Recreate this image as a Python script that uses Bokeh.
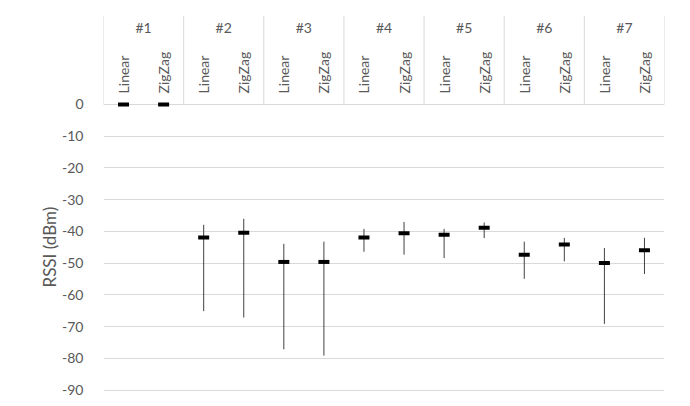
import math
from bokeh.plotting import figure
from bokeh.models import ColumnDataSource, FactorRange, Range1d, FixedTicker, Title
from bokeh.core.properties import value
from bokeh.embed import file_html
from bokeh.resources import INLINE

groups = ["#1", "#2", "#3", "#4", "#5", "#6", "#7"]
methods = ["Linear", "ZigZag"]

mean_linear = [0, -41.9, -49.6, -41.9, -41.0, -47.3, -49.9]
max_linear = [0, -37.9, -43.9, -39.2, -39.2, -43.2, -45.2]
min_linear = [0, -65.1, -77.1, -46.4, -48.4, -54.9, -69.1]

mean_zigzag = [0, -40.4, -49.6, -40.6, -38.8, -44.1, -45.9]
max_zigzag = [0, -36.0, -43.2, -37.0, -37.2, -42.0, -42.0]
min_zigzag = [0, -67.1, -79.1, -47.3, -42.1, -49.4, -53.4]

y_ticks = [0, -10, -20, -30, -40, -50, -60, -70, -80, -90]
y_tick_labels = ["0", "-10", "-20", "-30", "-40", "-50", "-60", "-70", "-80", "-90"]

FONT = "Lato"
TXT = "#595959"
GRID = "#d9d9d9"

factors = [(g, m) for g in groups for m in methods]
means, highs, lows = [], [], []
for i in range(len(groups)):
    means += [mean_linear[i], mean_zigzag[i]]
    highs += [max_linear[i], max_zigzag[i]]
    lows += [min_linear[i], min_zigzag[i]]

src = ColumnDataSource(dict(x=factors, mean=means, hi=highs, lo=lows))

x_range = FactorRange(*factors, group_padding=0, factor_padding=0, range_padding=0)
y_range = Range1d(start=-92.6, end=28.0)

p = figure(width=682, height=398, x_range=x_range, y_range=y_range,
           output_backend="svg", toolbar_location=None, x_axis_location=None,
           min_border_left=103, min_border_right=18, min_border_top=15, min_border_bottom=0)
p.outline_line_color = None
p.background_fill_color = "white"

# y axis
yax = p.yaxis[0]
yax.ticker = FixedTicker(ticks=y_ticks)
yax.major_label_overrides = {t: s for t, s in zip(y_ticks, y_tick_labels)}
yax.axis_line_color = None
yax.major_tick_line_color = None
yax.minor_tick_line_color = None
yax.major_label_standoff = 14
yax.major_label_text_font = FONT
yax.major_label_text_font_size = "14px"
yax.major_label_text_color = TXT

p.xgrid.visible = False
p.ygrid.ticker = FixedTicker(ticks=y_ticks)
p.ygrid.grid_line_color = GRID
p.ygrid.grid_line_width = 1

# header separators (category axis box)
sep_x = [(g, "Linear", -0.5) for g in groups] + [(groups[-1], "ZigZag", 0.5)]
sep_src = ColumnDataSource(dict(x=sep_x, y0=[0] * len(sep_x), y1=[y_range.end] * len(sep_x)))
p.segment(x0="x", y0="y0", x1="x", y1="y1", source=sep_src, line_color=GRID, line_width=1)

# group labels
gsrc = ColumnDataSource(dict(x=groups, y=[0] * len(groups), t=groups))
p.text(x="x", y="y", text="t", source=gsrc, y_offset=-77, text_align="center",
       text_baseline="middle", text_font=value(FONT), text_font_size="14px", text_color=TXT)

# sub labels (rotated)
ssrc = ColumnDataSource(dict(x=factors, y=[0] * len(factors), t=[f[1] for f in factors]))
p.text(x="x", y="y", text="t", source=ssrc, y_offset=-11, angle=math.pi / 2,
       text_align="left", text_baseline="middle", text_font=value(FONT),
       text_font_size="14px", text_color=TXT)

# whiskers and mean bars
p.segment(x0="x", y0="lo", x1="x", y1="hi", source=src, line_color="#404040", line_width=1)
p.rect(x="x", y="mean", width=11, height=4, width_units="screen", height_units="screen",
       source=src, fill_color="black", line_color=None)

# axis title
p.add_layout(Title(text="RSSI (dBm)", align="left", offset=111, standoff=0,
                   text_font=FONT, text_font_size="17px", text_font_style="normal",
                   text_color=TXT), "left")

open("out.html", "w").write(file_html(p, INLINE))
